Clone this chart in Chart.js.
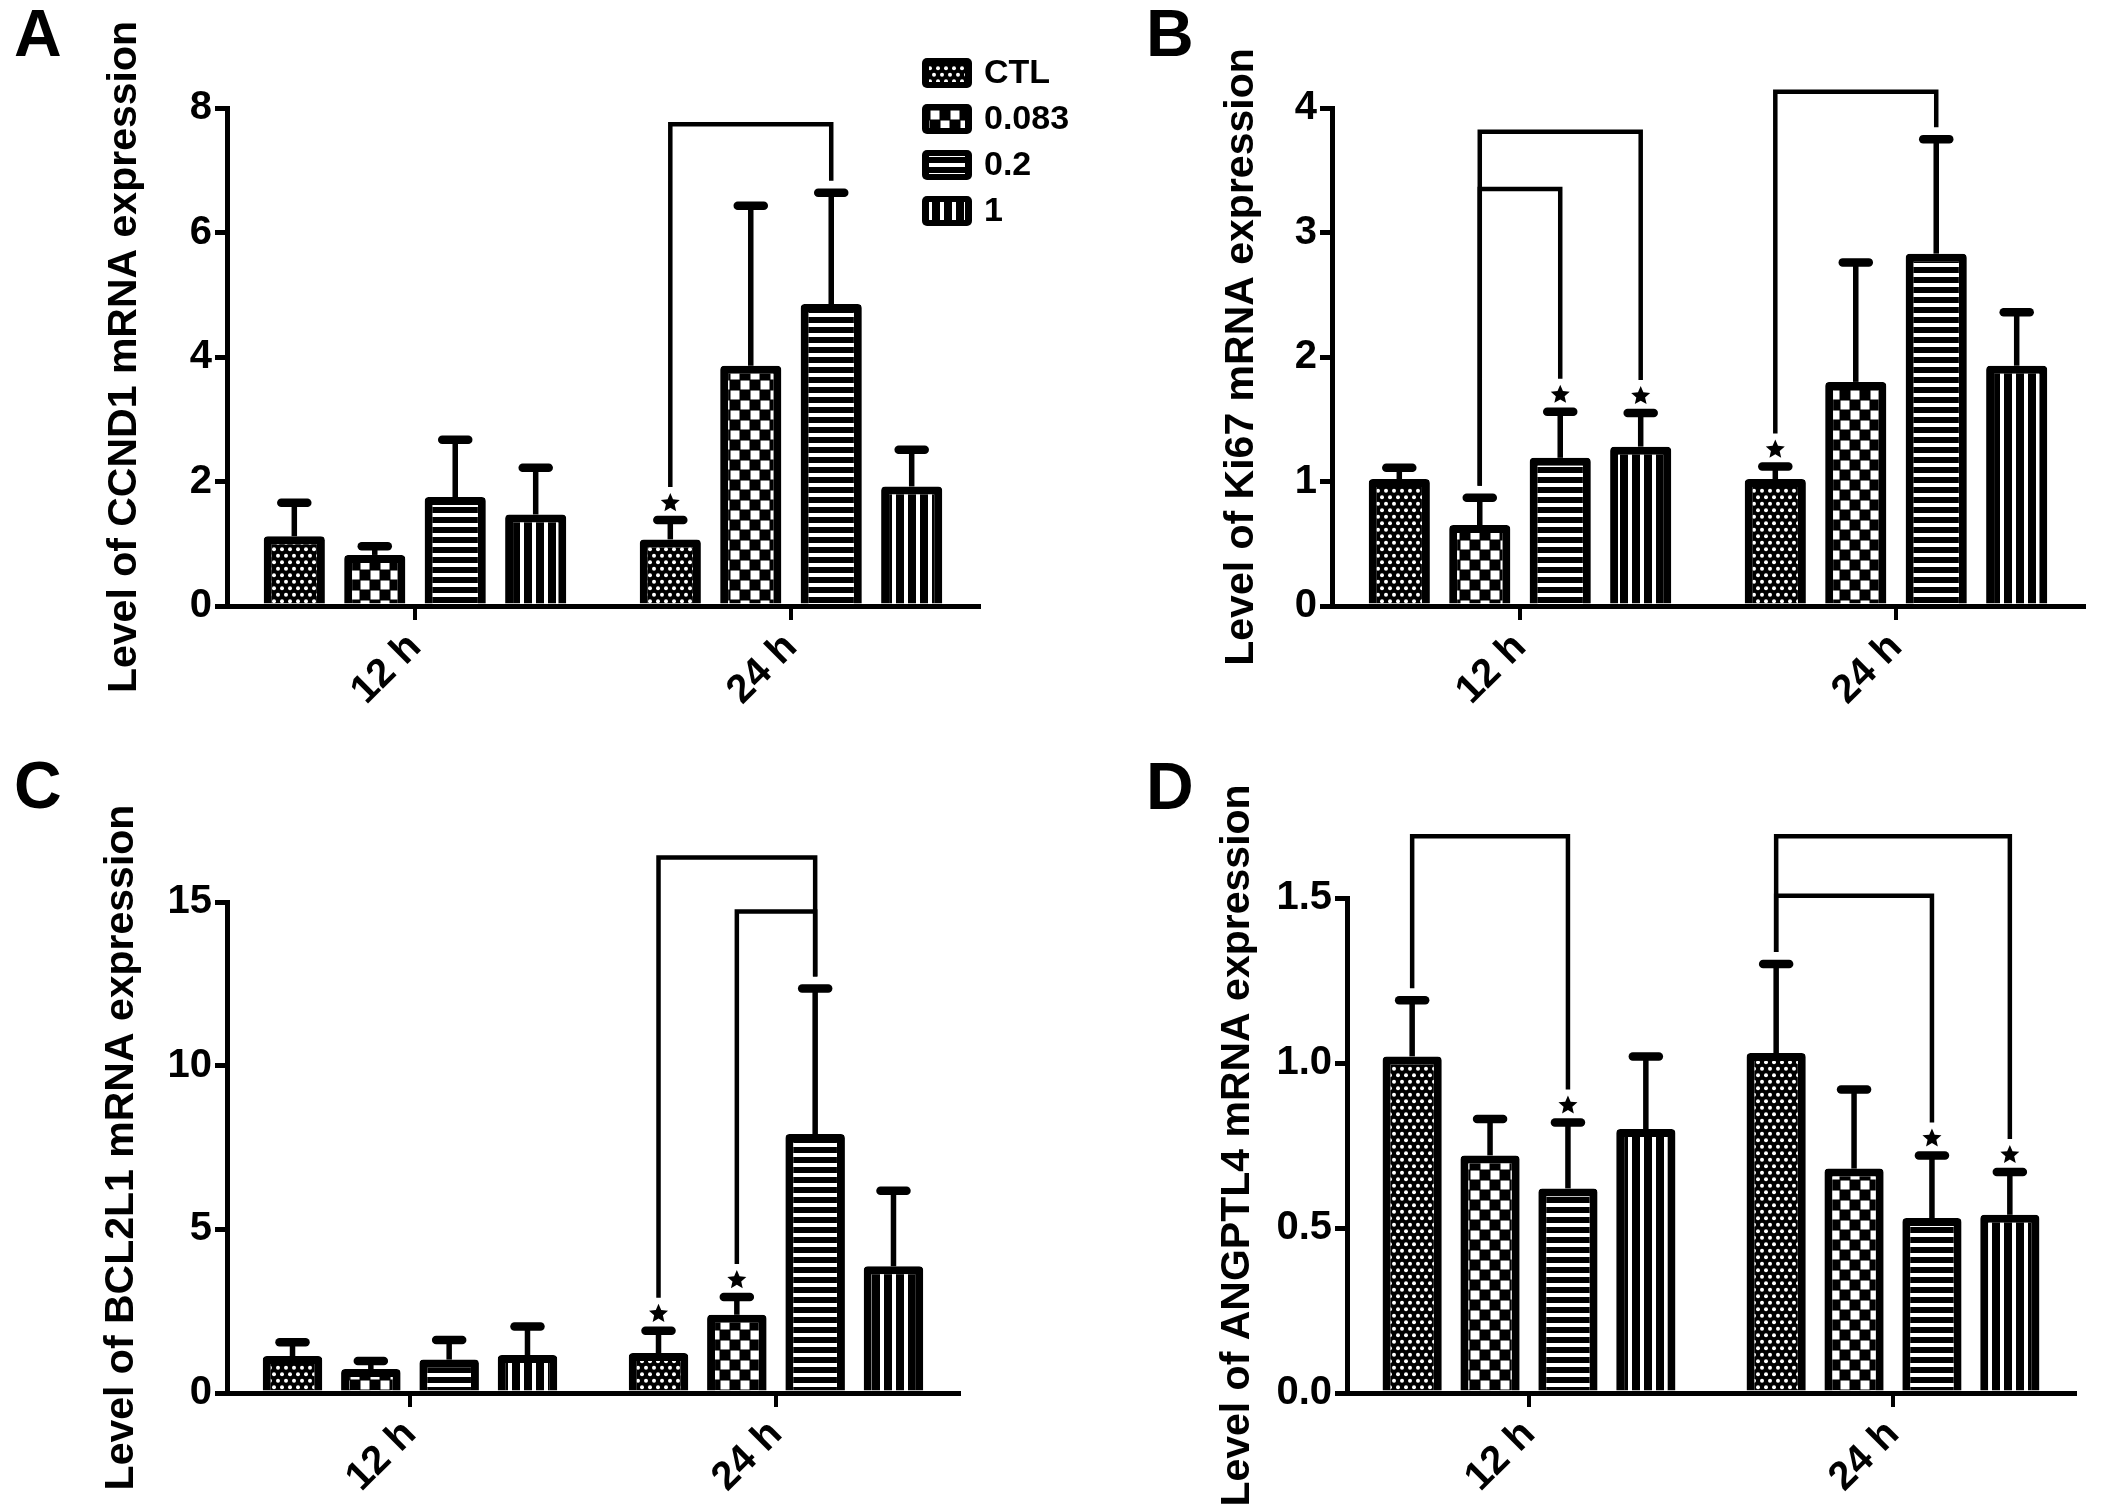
<!DOCTYPE html>
<html>
<head>
<meta charset="utf-8">
<script src="https://cdn.jsdelivr.net/npm/chart.js@4.4.0/dist/chart.umd.min.js"></script>
<style>
html,body{margin:0;padding:0;background:#fff;}
body{width:2120px;height:1511px;position:relative;overflow:hidden;font-family:'Liberation Sans',Arial,sans-serif;}
canvas{position:absolute;}
.lbl{position:absolute;font-weight:bold;font-size:66px;line-height:66px;color:#000;font-family:'Liberation Sans',Arial,sans-serif;}
</style>
</head>
<body>
<canvas id="cA" width="1100" height="760" style="left:0px;top:0px"></canvas>
<canvas id="cB" width="1060" height="760" style="left:1060px;top:0px"></canvas>
<canvas id="cC" width="1060" height="751" style="left:0px;top:760px"></canvas>
<canvas id="cD" width="1060" height="751" style="left:1060px;top:760px"></canvas>
<div class="lbl" style="left:14px;top:0px">A</div>
<div class="lbl" style="left:1146px;top:0px">B</div>
<div class="lbl" style="left:14px;top:752px">C</div>
<div class="lbl" style="left:1146px;top:753px">D</div>
<script>
// ---------------- DATA ----------------
const categories = ['12 h', '24 h'];
const seriesNames = ['CTL', '0.083', '0.2', '1'];

// Panel A: CCND1 (per series: [12 h, 24 h])
const ccnd1Mean = [[1.12, 1.07], [0.82, 3.86], [1.75, 4.85], [1.47, 1.92]];
const ccnd1Err  = [[0.54, 0.31], [0.14, 2.57], [0.92, 1.79], [0.75, 0.59]];
const ccnd1Stars = [[1, 0]];                 // [category, series]
const ccnd1Brackets = [[1, 0, 2, 7.74]];     // [category, from series, to series, level]
const ccnd1Ticks = [0, 2, 4, 6, 8];

// Panel B: Ki67
const ki67Mean = [[1.02, 1.02], [0.65, 1.80], [1.19, 2.83], [1.28, 1.93]];
const ki67Err  = [[0.09, 0.10], [0.22, 0.96], [0.37, 0.92], [0.27, 0.43]];
const ki67Stars = [[0, 2], [0, 3], [1, 0]];
const ki67Brackets = [[0, 1, 3, 3.81], [0, 1, 2, 3.35], [1, 0, 2, 4.13]];
const ki67Ticks = [0, 1, 2, 3, 4];

// Panel C: BCL2L1
const bcl2l1Mean = [[1.13, 1.22], [0.73, 2.39], [1.02, 7.91], [1.16, 3.87]];
const bcl2l1Err  = [[0.42, 0.68], [0.25, 0.54], [0.60, 4.45], [0.87, 2.31]];
const bcl2l1Stars = [[1, 0], [1, 1]];
const bcl2l1Brackets = [[1, 0, 2, 16.36], [1, 1, 2, 14.71]];
const bcl2l1Ticks = [0, 5, 10, 15];

// Panel D: ANGPTL4
const angptl4Mean = [[1.02, 1.03], [0.72, 0.68], [0.62, 0.53], [0.80, 0.54]];
const angptl4Err  = [[0.17, 0.27], [0.11, 0.24], [0.20, 0.19], [0.22, 0.13]];
const angptl4Stars = [[0, 2], [1, 2], [1, 3]];
const angptl4Brackets = [[0, 0, 2, 1.687], [1, 0, 3, 1.687], [1, 0, 2, 1.507]];
const angptl4Ticks = [0, 0.5, 1.0, 1.5];

// ---------------- STYLE ----------------
const FONT = "'Liberation Sans', Arial, sans-serif";
Chart.defaults.color = '#000';
Chart.defaults.font.family = FONT;

function makePattern(kind) {
  const c = document.createElement('canvas');
  let w = 10, h = 10;
  if (kind === 'dots') { w = 8; h = 13; }
  else if (kind === 'checker') { w = 20; h = 20; }
  else if (kind === 'hstripe') { w = 10; h = 10; }
  else { w = 12; h = 10; }
  c.width = w; c.height = h;
  const g = c.getContext('2d');
  g.fillStyle = '#000'; g.fillRect(0, 0, w, h);
  g.fillStyle = '#fff';
  if (kind === 'dots') {
    [[2, 3.25], [6, 9.75]].forEach(([x, y]) => { g.beginPath(); g.arc(x, y, 2.0, 0, Math.PI * 2); g.fill(); });
  } else if (kind === 'checker') {
    g.fillRect(0.5, 0.5, 9, 9); g.fillRect(10.5, 10.5, 9, 9);
  } else if (kind === 'hstripe') {
    g.fillRect(0, 3, 10, 4);
  } else {
    g.fillRect(4, 0, 4, 10);
  }
  return g.createPattern(c, 'repeat');
}
const patterns = [makePattern('dots'), makePattern('checker'), makePattern('hstripe'), makePattern('vstripe')];

function drawStar(ctx, cx, cy, R, r) {
  ctx.beginPath();
  for (let i = 0; i < 10; i++) {
    const rad = i % 2 === 0 ? R : r;
    const a = -Math.PI / 2 + i * Math.PI / 5;
    const x = cx + rad * Math.cos(a), y = cy + rad * Math.sin(a);
    if (i === 0) ctx.moveTo(x, y); else ctx.lineTo(x, y);
  }
  ctx.closePath();
  ctx.fill();
}

function drawExtras(chart, p) {
  const ctx = chart.ctx;
  const ys = chart.scales.y;
  const hasStar = (c, s) => p.stars.some(st => st[0] === c && st[1] === s);
  const capPx = (c, s) => ys.getPixelForValue(p.means[s][c] + p.errs[s][c]);
  ctx.save();
  ctx.strokeStyle = '#000'; ctx.fillStyle = '#000';
  // error bars
  p.means.forEach((arr, s) => {
    const meta = chart.getDatasetMeta(s);
    arr.forEach((v, c) => {
      const bar = meta.data[c];
      const x = bar.x;
      const y0 = ys.getPixelForValue(v);
      const y1 = capPx(c, s);
      ctx.lineWidth = 5.5; ctx.lineCap = 'butt';
      ctx.beginPath(); ctx.moveTo(x, y0); ctx.lineTo(x, y1); ctx.stroke();
      ctx.lineWidth = 8.5; ctx.lineCap = 'round';
      ctx.beginPath(); ctx.moveTo(x - 13, y1); ctx.lineTo(x + 13, y1); ctx.stroke();
    });
  });
  // stars
  p.stars.forEach(([c, s]) => {
    const x = chart.getDatasetMeta(s).data[c].x;
    drawStar(ctx, x, capPx(c, s) - 17, 10, 4.6);
  });
  // brackets
  ctx.lineWidth = 4.5; ctx.lineCap = 'butt'; ctx.lineJoin = 'miter';
  p.brackets.forEach(([c, s1, s2, level]) => {
    const x1 = chart.getDatasetMeta(s1).data[c].x;
    const x2 = chart.getDatasetMeta(s2).data[c].x;
    const yl = ys.getPixelForValue(level);
    const e1 = capPx(c, s1) - (hasStar(c, s1) ? 33 : 12);
    const e2 = capPx(c, s2) - (hasStar(c, s2) ? 33 : 12);
    ctx.beginPath();
    ctx.moveTo(x1, e1); ctx.lineTo(x1, yl); ctx.lineTo(x2, yl); ctx.lineTo(x2, e2);
    ctx.stroke();
  });
  ctx.restore();
}

function roundRect(ctx, x, y, w, h, r) {
  ctx.beginPath();
  ctx.moveTo(x + r, y);
  ctx.arcTo(x + w, y, x + w, y + h, r);
  ctx.arcTo(x + w, y + h, x, y + h, r);
  ctx.arcTo(x, y + h, x, y, r);
  ctx.arcTo(x, y, x + w, y, r);
  ctx.closePath();
}

function drawLegend(chart) {
  const ctx = chart.ctx;
  ctx.save();
  seriesNames.forEach((name, i) => {
    const cy = 73 + i * 46;
    ctx.fillStyle = '#000';
    roundRect(ctx, 922, cy - 15, 50, 30, 5);
    ctx.fill();
    ctx.fillStyle = patterns[i];
    ctx.fillRect(929, cy - 9, 36, 18);
    ctx.fillStyle = '#000';
    ctx.font = 'bold 34px ' + FONT;
    ctx.textAlign = 'left';
    ctx.textBaseline = 'middle';
    ctx.fillText(name, 984, cy + 1);
  });
  ctx.restore();
}

function makePanel(id, p) {
  const canvas = document.getElementById(id);
  const step = p.ticks[1] - p.ticks[0];
  const datasets = seriesNames.map((name, s) => ({
    label: name,
    data: p.means[s],
    backgroundColor: patterns[s],
    borderColor: '#000',
    borderWidth: 8,
    borderRadius: 4,
    barPercentage: 0.76,
    categoryPercentage: 0.856
  }));
  const plugins = [{ id: 'extras' + id, afterDatasetsDraw(chart) { drawExtras(chart, p); } }];
  if (p.legend) plugins.push({ id: 'legend' + id, afterDraw(chart) { drawLegend(chart); } });
  return new Chart(canvas, {
    type: 'bar',
    data: { labels: categories, datasets },
    plugins,
    options: {
      responsive: false,
      animation: false,
      devicePixelRatio: 1,
      layout: { padding: { left: p.L, top: p.T, right: p.R, bottom: 0 } },
      plugins: { legend: { display: false }, tooltip: { enabled: false } },
      scales: {
        x: {
          type: 'category',
          offset: true,
          grid: { display: true, offset: false, drawOnChartArea: false, drawTicks: true, tickLength: 14, lineWidth: 4, color: '#000' },
          border: { display: true, width: 5, color: '#000' },
          ticks: { font: { family: FONT, size: 40, weight: 'bold' }, color: '#000', minRotation: 45, maxRotation: 45, autoSkip: false, padding: 4 },
          afterFit(s) { s.height = p.xH; }
        },
        y: {
          min: p.ticks[0],
          max: p.ticks[p.ticks.length - 1],
          grid: { display: true, drawOnChartArea: false, drawTicks: true, tickLength: 12, lineWidth: 5, color: '#000' },
          border: { display: true, width: 5, color: '#000' },
          ticks: { stepSize: step, font: { family: FONT, size: 40, weight: 'bold' }, color: '#000', padding: 3,
                   callback: v => Number(v).toFixed(p.dec) },
          title: { display: true, text: p.title, font: { family: FONT, size: 41, weight: 'bold' }, color: '#000', padding: 0 },
          afterFit(s) { s.width = p.yW; }
        }
      }
    }
  });
}

makePanel('cA', { title: 'Level of CCND1 mRNA expression', means: ccnd1Mean, errs: ccnd1Err, stars: ccnd1Stars,
  brackets: ccnd1Brackets, ticks: ccnd1Ticks, dec: 0, legend: true, L: 100, yW: 127, T: 108, R: 121, xH: 154 });
makePanel('cB', { title: 'Level of Ki67 mRNA expression', means: ki67Mean, errs: ki67Err, stars: ki67Stars,
  brackets: ki67Brackets, ticks: ki67Ticks, dec: 0, legend: false, L: 157, yW: 115, T: 108, R: 36, xH: 154 });
makePanel('cC', { title: 'Level of BCL2L1 mRNA expression', means: bcl2l1Mean, errs: bcl2l1Err, stars: bcl2l1Stars,
  brackets: bcl2l1Brackets, ticks: bcl2l1Ticks, dec: 0, legend: false, L: 97, yW: 130, T: 142, R: 101, xH: 118 });
makePanel('cD', { title: 'Level of ANGPTL4 mRNA expression', means: angptl4Mean, errs: angptl4Err, stars: angptl4Stars,
  brackets: angptl4Brackets, ticks: angptl4Ticks, dec: 1, legend: false, L: 153, yW: 134, T: 138, R: 45, xH: 118 });
</script>
</body>
</html>
